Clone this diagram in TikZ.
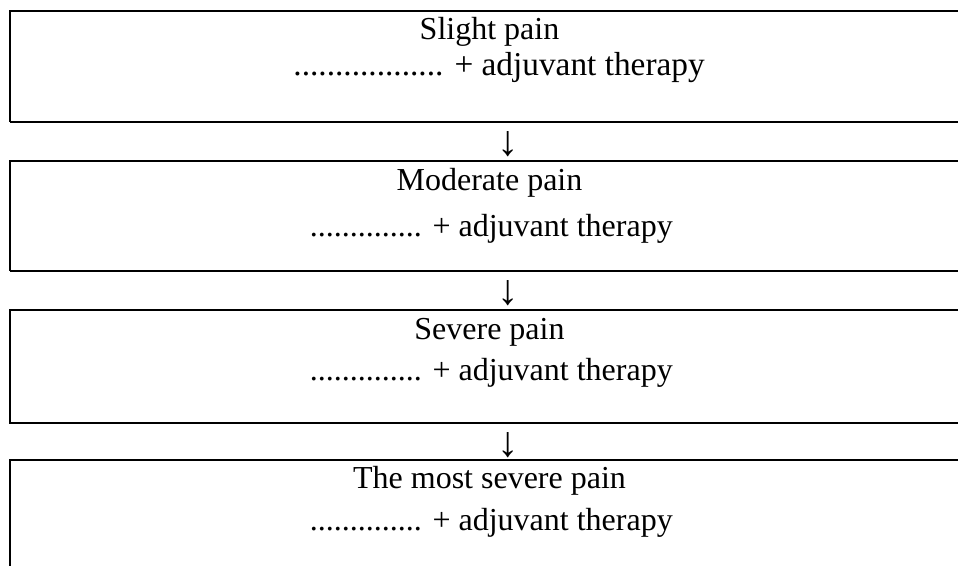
\documentclass[tikz,border=0pt]{standalone}
\usepackage{fontspec}
\setmainfont{Liberation Serif}
\begin{document}
\begin{tikzpicture}[x=0.75pt,y=-0.75pt,
  thinline/.style={line width=0.8pt},
  thickline/.style={line width=1.7pt},
  txt/.style={inner sep=0pt,font=\fontsize{24}{28}\selectfont},
  bigtxt/.style={inner sep=0pt,font=\fontsize{25}{29}\selectfont},
  arrowglyph/.style={inner sep=0pt,font=\fontsize{32}{36}\selectfont}]
\useasboundingbox (0,0) rectangle (958,566);
% box 1
\draw[thinline] (958,11) -- (10,11) -- (10,122);
\draw[thickline] (9.6,122) -- (958,122);
% box 2
\draw[thinline] (958,161) -- (10,161) -- (10,271);
\draw[thickline] (9.6,271) -- (958,271);
% box 3
\draw[thinline] (958,310) -- (10,310) -- (10,423) -- (958,423);
% box 4
\draw[thinline] (958,460) -- (10,460) -- (10,566);
% texts
\node[txt,anchor=base] (t1) at (489.5,40) {Slight pain};
\node[bigtxt,anchor=base east] (s1) at (705,76) {.................. + adjuvant therapy};
\node[txt,anchor=base] (t2) at (489.5,191) {Moderate pain};
\node[txt,anchor=base east] (s2) at (673,237) {.............. + adjuvant therapy};
\node[txt,anchor=base] (t3) at (489.5,340) {Severe pain};
\node[txt,anchor=base east] (s3) at (673,381) {.............. + adjuvant therapy};
\node[txt,anchor=base] (t4) at (489.5,489) {The most severe pain};
\node[txt,anchor=base east] (s4) at (673,531) {.............. + adjuvant therapy};
% arrows
\node[arrowglyph] (a1) at (508,144.5) {↓};
\node[arrowglyph] (a2) at (508,293) {↓};
\node[arrowglyph] (a3) at (508,445) {↓};
\end{tikzpicture}
\end{document}
